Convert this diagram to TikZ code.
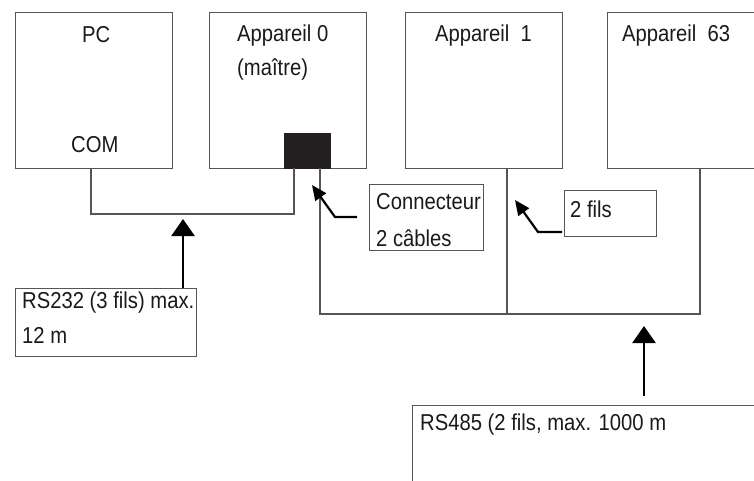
\documentclass[tikz,border=0pt]{standalone}
\usepackage{fontspec}
\setmainfont[FakeStretch=0.88]{Liberation Sans}
\usetikzlibrary{arrows.meta}
\definecolor{ink}{HTML}{1A1A1A}
\definecolor{frame}{HTML}{555555}
\definecolor{plug}{HTML}{231F20}
\tikzset{
  box/.style={draw=frame, line width=1.1pt, fill=white, anchor=north west, inner sep=0pt},
  lbl/.style={anchor=base west, inner sep=0pt, text=ink, font=\fontsize{23}{27}\selectfont},
  wire/.style={draw=frame, line width=1.2pt},
  bigarrow/.style={draw=black, line width=2.6pt, -{Triangle[width=23pt,length=17pt]}},
  smallarrow/.style={draw=black, line width=2.2pt, -{Triangle[width=13pt,length=15pt]}}
}
\begin{document}
\begin{tikzpicture}[x=1pt,y=-1pt]
\useasboundingbox (0,0) rectangle (754,481);

% devices
\node[box, minimum width=157pt, minimum height=156pt] (pc) at (15,12) {};
\node[box, minimum width=157pt, minimum height=156pt] (dev0) at (209,12) {};
\node[box, minimum width=157pt, minimum height=156pt] (dev1) at (405,12) {};
\node[box, minimum width=170pt, minimum height=156pt] (dev63) at (607,12) {};
\node[box, fill=plug, draw=plug, minimum width=46pt, minimum height=35pt] (plug) at (284,133) {};

\node[lbl] (tpc) at (82,43) {PC};
\node[lbl] (tcom) at (71,153) {COM};
\node[lbl] (t0) at (237,42) {Appareil 0};
\node[lbl] (t0b) at (237,76) {(maître)};
\node[lbl] (t1) at (435,42) {Appareil\ \ 1};
\node[lbl] (t63) at (622,42) {Appareil\ \ 63};

% RS232 link
\coordinate (com) at (91,168);
\coordinate (p232) at (294,168);
\coordinate (p485) at (320,168);
\coordinate (d1) at (507,168);
\coordinate (d63) at (700,168);
\draw[wire] (com) -- (91,214) -| (p232);
\coordinate (tip232) at (183,219);

% RS485 bus
\draw[wire] (p485) -- (320,314) -| (d63);
\draw[wire] (d1) -- (507,314);
\coordinate (tip485) at (644,326);

% labels with arrows
\node[box, minimum width=181pt, minimum height=68pt] (rs232) at (15,288) {};
\node[lbl] at (22,308) {RS232 (3 fils) max.};
\node[lbl] at (22,343) {12 m};
\draw[bigarrow] (rs232.north -| tip232) -- (tip232);

\node[box, minimum width=114pt, minimum height=66pt] (conn) at (369,184) {};
\node[lbl] at (376,209) {Connecteur};
\node[lbl] at (376,246) {2 câbles};
\coordinate (connArrow) at (312,185);
\draw[smallarrow] (357,217) -- (335,217) -- (connArrow);

\node[box, minimum width=92pt, minimum height=46pt] (fils) at (564,190) {};
\node[lbl] at (570,217) {2 fils};
\coordinate (filsArrow) at (515,200);
\draw[smallarrow] (562,232) -- (538,232) -- (filsArrow);

\node[box, minimum width=360pt, minimum height=100pt] (rs485) at (412,405) {};
\node[lbl] at (420,430) {RS485 (2 fils, max. 1000 m};
\draw[bigarrow] (644,396) -- (tip485);
\end{tikzpicture}
\end{document}
